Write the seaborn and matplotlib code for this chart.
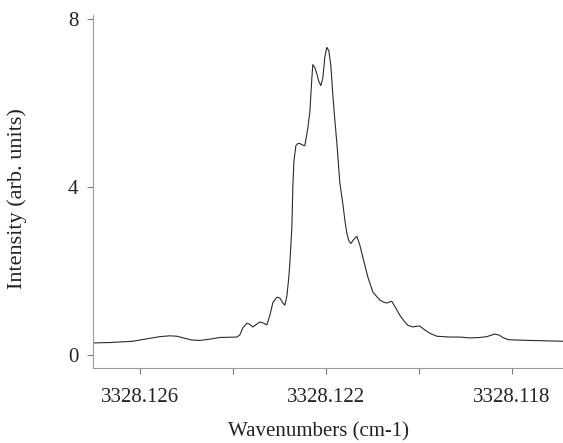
import matplotlib
matplotlib.use("Agg")
import matplotlib.pyplot as plt
import seaborn as sns
import pandas as pd

wavenumber = [
    3328.127011, 3328.126645, 3328.126151, 3328.125785, 3328.125570, 3328.125355,
    3328.125204, 3328.125032, 3328.124882, 3328.124710, 3328.124495, 3328.124280,
    3328.123914, 3328.123850, 3328.123785, 3328.123699, 3328.123634, 3328.123570,
    3328.123484, 3328.123419, 3328.123333, 3328.123269, 3328.123204, 3328.123140,
    3328.123054, 3328.122989, 3328.122925, 3328.122882, 3328.122839, 3328.122796,
    3328.122774, 3328.122731, 3328.122710, 3328.122688, 3328.122645, 3328.122602,
    3328.122559, 3328.122495, 3328.122452, 3328.122387, 3328.122344, 3328.122301,
    3328.122280, 3328.122237, 3328.122194, 3328.122151, 3328.122108, 3328.122065,
    3328.122022, 3328.121979, 3328.121936, 3328.121893, 3328.121850, 3328.121807,
    3328.121764, 3328.121699, 3328.121634, 3328.121591, 3328.121548, 3328.121505,
    3328.121462, 3328.121398, 3328.121333, 3328.121269, 3328.121204, 3328.121097,
    3328.120989, 3328.120839, 3328.120753, 3328.120688, 3328.120624, 3328.120581,
    3328.120495, 3328.120409, 3328.120323, 3328.120237, 3328.120129, 3328.120043,
    3328.119979, 3328.119871, 3328.119764, 3328.119613, 3328.119333, 3328.119118,
    3328.118903, 3328.118688, 3328.118538, 3328.118430, 3328.118366, 3328.118280,
    3328.118194, 3328.118086, 3328.117936, 3328.117613, 3328.116903,
]
intensity = [
    0.29, 0.30, 0.33, 0.40, 0.44, 0.46,
    0.45, 0.40, 0.36, 0.35, 0.38, 0.42,
    0.43, 0.48, 0.65, 0.76, 0.73, 0.67,
    0.74, 0.79, 0.76, 0.72, 0.95, 1.25,
    1.38, 1.36, 1.24, 1.19, 1.40, 1.86,
    2.20, 3.04, 4.00, 4.60, 4.99, 5.04,
    5.04, 5.00, 4.99, 5.41, 5.80, 6.60,
    6.92, 6.85, 6.70, 6.52, 6.42, 6.60,
    7.10, 7.33, 7.25, 6.90, 6.20, 5.60,
    5.06, 4.10, 3.60, 3.21, 2.90, 2.72,
    2.66, 2.76, 2.83, 2.62, 2.33, 1.86,
    1.50, 1.31, 1.26, 1.24, 1.27, 1.28,
    1.12, 0.95, 0.82, 0.71, 0.67, 0.69,
    0.69, 0.60, 0.52, 0.45, 0.43, 0.43,
    0.41, 0.42, 0.44, 0.48, 0.50, 0.48,
    0.42, 0.37, 0.36, 0.35, 0.33,
]
x_ticks = [3328.126, 3328.124, 3328.122, 3328.120, 3328.118]
x_tick_labels = ["3328.126", "", "3328.122", "", "3328.118"]
y_ticks = [0, 4, 8]
y_tick_labels = ["0", "4", "8"]

df = pd.DataFrame({"w": wavenumber, "i": intensity})

sns.set_style("ticks")
plt.rcParams["font.family"] = ["Liberation Serif", "DejaVu Serif"]

fig = plt.figure(figsize=(5.63, 4.43), dpi=100)
ax = fig.add_axes([0.165, 0.169, 0.835, 0.797])

sns.lineplot(data=df, x="w", y="i", sort=False, color="#2a2a2a", linewidth=0.8, ax=ax)

ax.set_xlim(3328.12701, 3328.1169)
ax.set_ylim(-0.31, 8.1)

ax.set_xticks(x_ticks)
ax.set_xticklabels(x_tick_labels)
ax.set_yticks(y_ticks)
ax.set_yticklabels(y_tick_labels)

for s in ["top", "right"]:
    ax.spines[s].set_visible(False)
for s in ["left", "bottom"]:
    ax.spines[s].set_color("#9a9a9a")
    ax.spines[s].set_linewidth(0.8)

ax.tick_params(axis="both", direction="out", length=4.5, width=0.8, color="#7a7a7a",
               labelsize=15, labelcolor="#222222")
ax.tick_params(axis="y", pad=6)
ax.tick_params(axis="x", pad=10)

ax.set_xlabel("Wavenumbers (cm-1)", fontsize=15, color="#222222")
ax.set_ylabel("Intensity (arb. units)", fontsize=16, color="#222222")
ax.xaxis.set_label_coords(0.48, -0.152)
ax.yaxis.set_label_coords(-0.14, 0.48)

fig.savefig("out.png", dpi=100)
